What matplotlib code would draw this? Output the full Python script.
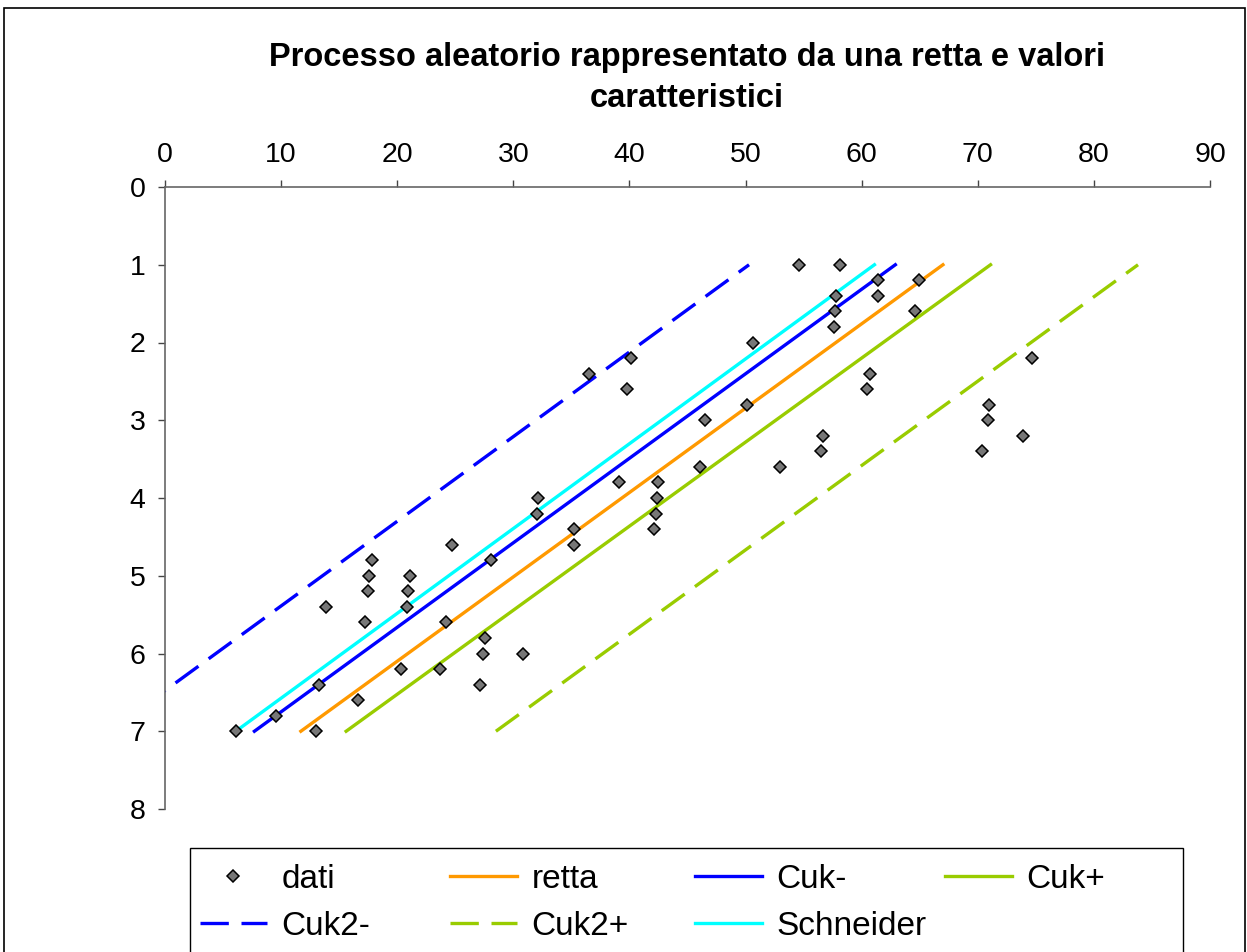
import numpy as np
import matplotlib
matplotlib.use("Agg")
import matplotlib.pyplot as plt
from matplotlib.patches import Rectangle

plt.rcParams['font.family'] = ['Liberation Sans', 'DejaVu Sans']

dati_x = [54.6, 58.1, 61.4, 64.9, 57.8, 61.4, 57.7, 64.6, 57.6, 50.6,
          40.1, 74.7, 36.5, 60.7, 39.8, 60.5, 50.1, 71.0, 46.5, 70.9,
          56.7, 73.9, 56.5, 70.4, 46.1, 53.0, 39.1, 42.5, 32.1, 42.4,
          32.0, 42.3, 35.2, 42.1, 24.7, 35.2, 17.8, 28.1, 17.6, 21.1,
          17.5, 20.9, 13.9, 20.8, 17.2, 24.2, 27.6, 27.4, 30.8, 20.3,
          23.7, 13.3, 27.1, 16.6, 9.6, 6.1, 13.0]
dati_y = [1.0, 1.0, 1.2, 1.2, 1.4, 1.4, 1.6, 1.6, 1.8, 2.0,
          2.2, 2.2, 2.4, 2.4, 2.6, 2.6, 2.8, 2.8, 3.0, 3.0,
          3.2, 3.2, 3.4, 3.4, 3.6, 3.6, 3.8, 3.8, 4.0, 4.0,
          4.2, 4.2, 4.4, 4.4, 4.6, 4.6, 4.8, 4.8, 5.0, 5.0,
          5.2, 5.2, 5.4, 5.4, 5.6, 5.6, 5.8, 6.0, 6.0, 6.2,
          6.2, 6.4, 6.4, 6.6, 6.8, 7.0, 7.0]

# rette (estremi a y=7 e y=1)
linee_y = [7, 1]
retta_x = [11.7, 67.0]
cukm_x = [7.7, 62.9]
cukp_x = [15.6, 71.1]
cuk2m_x = [-4.8, 50.3]
cuk2p_x = [28.5, 83.8]
schneider_x = [6.1, 61.1]

W, H = 1247, 952
fig = plt.figure(figsize=(W / 100, H / 100), dpi=100)
ax = fig.add_axes([165 / W, 1 - 809 / H, (1210 - 165) / W, (809 - 187) / H])

lw = 2.4
l_retta, = ax.plot(retta_x, linee_y, color='#FF9900', lw=lw, label='retta')
l_cukm, = ax.plot(cukm_x, linee_y, color='#0000FF', lw=lw, label='Cuk-')
l_cukp, = ax.plot(cukp_x, linee_y, color='#99CC00', lw=lw, label='Cuk+')
l_cuk2m, = ax.plot(cuk2m_x, linee_y, color='#0000FF', lw=lw, ls=(0, (8.5, 3.8)), label='Cuk2-')
l_cuk2p, = ax.plot(cuk2p_x, linee_y, color='#99CC00', lw=lw, ls=(0, (8.5, 3.8)), label='Cuk2+')
l_sch, = ax.plot(schneider_x, linee_y, color='#00FFFF', lw=lw, label='Schneider')
l_dati, = ax.plot(dati_x, dati_y, ls='none', marker='D', ms=6.5, mfc='#777777',
                  mec='black', mew=1.1, label='dati', zorder=5)

ax.set_xlim(0, 90)
ax.set_ylim(8, 0)
ax.set_xticks(np.arange(0, 91, 10))
ax.set_yticks(np.arange(0, 9, 1))
ax.xaxis.tick_top()
for s in ['right', 'bottom']:
    ax.spines[s].set_visible(False)
for s in ['top', 'left']:
    ax.spines[s].set_color('#666666')
    ax.spines[s].set_linewidth(1.2)
ax.tick_params(axis='both', direction='out', length=5, width=1, color='#444444',
               labelsize=20.5, pad=9)

fig.text(687 / W, 1 - 78 / H,
         'Processo aleatorio rappresentato da una retta e valori\ncaratteristici',
         ha='center', va='center', fontsize=23.5, fontweight='bold', linespacing=1.4)

# cornice esterna
fig.patches.append(Rectangle((4 / W, -0.05), 1241 / W, 1 - 8 / H + 0.05,
                             transform=fig.transFigure, fill=False,
                             edgecolor='black', lw=1.2))
# riquadro legenda
fig.patches.append(Rectangle((190 / W, -0.05), 993 / W, 1 - 848 / H + 0.05,
                             transform=fig.transFigure, fill=False,
                             edgecolor='black', lw=1.0))

colonne = [([l_dati, l_cuk2m], 200), ([l_retta, l_cuk2p], 450),
           ([l_cukm, l_sch], 695), ([l_cukp], 945)]
for handles, xp in colonne:
    leg = fig.legend(handles=handles, loc='upper left',
                     bbox_to_anchor=(xp / W, 1 - 864 / H),
                     bbox_transform=fig.transFigure, frameon=False,
                     fontsize=24, borderpad=0, borderaxespad=0,
                     handlelength=2.0, handletextpad=0.45, labelspacing=0.47)

fig.savefig('out.png', dpi=100)
